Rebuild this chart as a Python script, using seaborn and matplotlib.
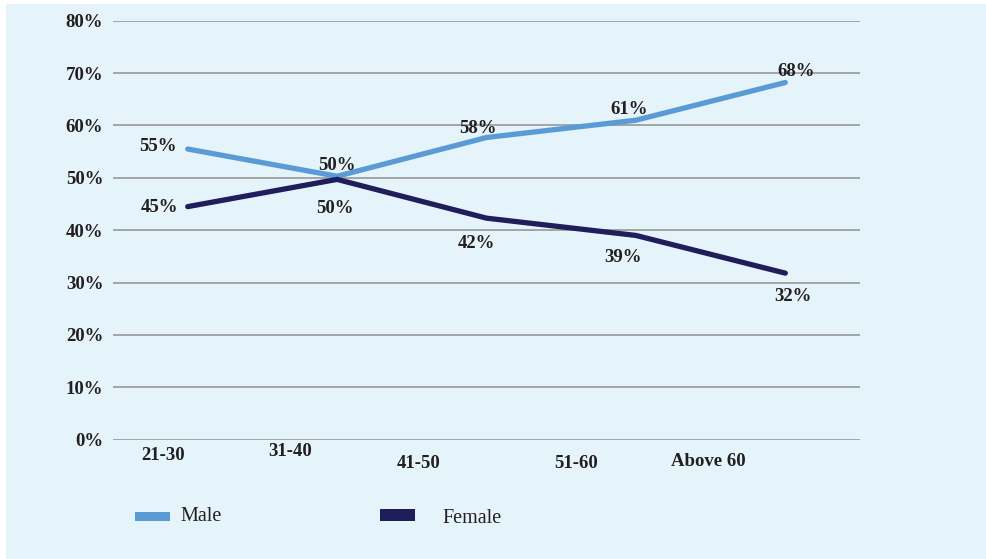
import matplotlib
matplotlib.use("Agg")
import matplotlib.pyplot as plt
from matplotlib.patches import Rectangle
import seaborn as sns
import pandas as pd

# ---- data ----
age_groups = ["21-30", "31-40", "41-50", "51-60", "Above 60"]
male = [55.5, 50.3, 57.7, 61.0, 68.2]
female = [44.5, 49.7, 42.3, 39.0, 31.8]
male_labels = ["55%", "50%", "58%", "61%", "68%"]
female_labels = ["45%", "50%", "42%", "39%", "32%"]
y_ticks = [0, 10, 20, 30, 40, 50, 60, 70, 80]

# ---- layout (pixels / offsets) ----
W, H = 986, 559
BG = "#E5F4FA"
MALE_C = "#5B9BD5"
FEMALE_C = "#1F1E5A"
TXT = "#231F20"
male_off = [(-30, 3), (0, 11), (-9, 9), (-7, 11), (11, 11)]
female_off = [(-28, -1), (-2, -29), (-10, -25), (-13, -22), (8, -23)]
tick_x = [-0.164, 0.686, 1.545, 2.602, 3.488]
tick_dy = [15.3, 12.3, 23.3, 23.3, 21.3]

sns.set_theme(style="white")
plt.rcParams["font.family"] = ["Liberation Serif", "DejaVu Serif"]

fig = plt.figure(figsize=(W / 100, H / 100), dpi=100)
fig.patch.set_facecolor("white")
fig.patches.append(Rectangle((6 / W, 0), 1 - 6 / W, 1 - 4 / H,
                             transform=fig.transFigure, facecolor=BG,
                             edgecolor="none", zorder=-10))

ax = fig.add_axes([113 / W, 1 - 439.7 / H, (860 - 113) / W, (439.7 - 20.7) / H])
ax.set_facecolor("none")

n = len(age_groups)
df = pd.DataFrame({
    "x": list(range(n)) * 2,
    "value": male + female,
    "Gender": ["Male"] * n + ["Female"] * n,
})
sns.lineplot(data=df, x="x", y="value", hue="Gender",
             palette={"Male": MALE_C, "Female": FEMALE_C},
             linewidth=3.8, ax=ax, legend=False, clip_on=False,
             solid_capstyle="round", solid_joinstyle="round")
for line in ax.lines:
    line.set_zorder(5)

ax.set_xlim(-0.5, n - 0.5)
ax.set_ylim(0, 80)
ax.set_yticks(y_ticks)
ax.set_yticklabels([f"{v}%" for v in y_ticks], fontsize=13.5,
                   fontweight="bold", color=TXT)
ax.tick_params(axis="y", length=0, pad=7)
ax.set_xticks([])
ax.set_xlabel("")
ax.set_ylabel("")
for s in ax.spines.values():
    s.set_visible(False)
ax.yaxis.grid(True, color="#9C9FA0", linewidth=1.3)
ax.set_axisbelow(True)

px2pt = 0.72
for i in range(n):
    dx, dy = male_off[i]
    ax.annotate(male_labels[i], (i, male[i]), xytext=(dx * px2pt, dy * px2pt),
                textcoords="offset points", ha="center", va="center",
                fontsize=13.5, fontweight="bold", color=TXT, zorder=6,
                annotation_clip=False)
    dx, dy = female_off[i]
    ax.annotate(female_labels[i], (i, female[i]), xytext=(dx * px2pt, dy * px2pt),
                textcoords="offset points", ha="center", va="center",
                fontsize=13.5, fontweight="bold", color=TXT, zorder=6,
                annotation_clip=False)

for lab, tx, dy in zip(age_groups, tick_x, tick_dy):
    ax.annotate(lab, (tx, 0), xycoords=("data", "axes fraction"),
                xytext=(0, -dy * px2pt), textcoords="offset points",
                ha="center", va="center", fontsize=13.5, fontweight="bold",
                color=TXT, annotation_clip=False)

# legend
def fx(p):
    return p / W

def fy(p):
    return 1 - p / H

fig.patches.append(Rectangle((fx(135), fy(521)), fx(35), 9 / H,
                             transform=fig.transFigure, facecolor=MALE_C,
                             edgecolor="none"))
fig.patches.append(Rectangle((fx(380), fy(521)), fx(35), 12 / H,
                             transform=fig.transFigure, facecolor=FEMALE_C,
                             edgecolor="none"))
fig.text(fx(180), fy(521), "Male", ha="left", va="baseline",
         fontsize=14.5, color=TXT)
fig.text(fx(442), fy(523), "Female", ha="left", va="baseline",
         fontsize=14.5, color=TXT)

fig.savefig("out.png", dpi=100, facecolor="white")
